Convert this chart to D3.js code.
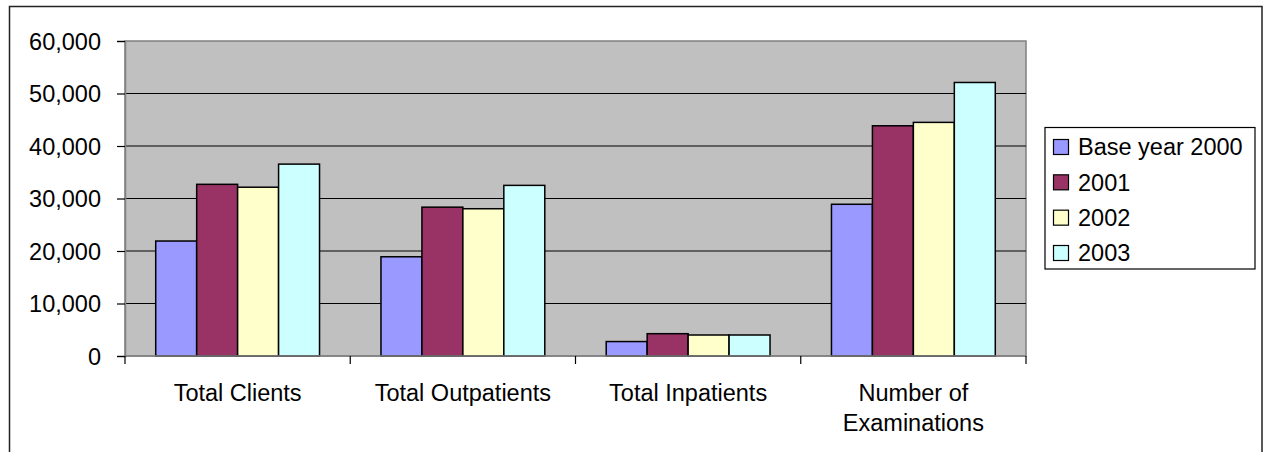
<!DOCTYPE html>
<html>
<head>
<meta charset="utf-8">
<script src="https://cdn.jsdelivr.net/npm/d3@7"></script>
<style>
  html, body { margin: 0; padding: 0; background: #fff; }
  svg { display: block; font-family: Arial, "Liberation Sans", sans-serif; }
</style>
</head>
<body>
<svg id="chart" width="1266" height="452"></svg>
<script>
// values
const categories = ['Total Clients', 'Total Outpatients', 'Total Inpatients', 'Number of Examinations']
const seriesNames = ['Base year 2000', '2001', '2002', '2003']
const base2000 = [21900, 18900, 2750, 28900]
const y2001 = [32700, 28350, 4250, 43850]
const y2002 = [32150, 28050, 4000, 44500]
const y2003 = [36550, 32500, 4000, 52100]
const seriesColors = ['#9999ff', '#993366', '#ffffcc', '#ccffff']
const yTicks = [0, 10000, 20000, 30000, 40000, 50000, 60000]

const seriesValues = [base2000, y2001, y2002, y2003]

const svg = d3.select('#chart')
const fontSize = 23.5

const plot = { left: 125, right: 1026, top: 41, bottom: 356 }

// chart frame (no bottom edge visible in the picture)
svg.append('rect')
    .attr('x', 9.5)
    .attr('y', 6.5)
    .attr('width', 1252.5)
    .attr('height', 470)
    .attr('fill', '#fff')
    .attr('stroke', '#222')
    .attr('stroke-width', 1.5)

const x = d3.scaleBand()
    .domain(categories)
    .range([plot.left, plot.right])
    .padding(0)

// gap width 150% like excel: 0.75 step on each side
const xs = d3.scaleBand()
    .domain(seriesNames)
    .range([0, x.bandwidth()])
    .paddingInner(0)
    .paddingOuter(0.75)

const y = d3.scaleLinear()
    .domain([0, 60000])
    .range([plot.bottom, plot.top])

// plot area
svg.append('rect')
    .attr('x', plot.left)
    .attr('y', plot.top)
    .attr('width', plot.right - plot.left)
    .attr('height', plot.bottom - plot.top)
    .attr('fill', '#c0c0c0')
    .attr('stroke', '#808080')
    .attr('stroke-width', 1.5)

// gridlines
svg.append('g')
    .selectAll('line')
    .data(yTicks.filter(d => d > 0 && d < 60000))
    .join('line')
    .attr('x1', plot.left)
    .attr('x2', plot.right)
    .attr('y1', d => y(d))
    .attr('y2', d => y(d))
    .attr('stroke', '#000')
    .attr('stroke-width', 1.2)

// bars
const groups = svg.append('g')
    .selectAll('g')
    .data(seriesNames)
    .join('g')
    .attr('fill', (d, i) => seriesColors[i])

groups.selectAll('rect')
    .data((s, si) => categories.map((c, ci) => ({ c: c, s: s, v: seriesValues[si][ci] })))
    .join('rect')
    .attr('x', d => x(d.c) + xs(d.s))
    .attr('y', d => y(d.v))
    .attr('width', xs.bandwidth())
    .attr('height', d => y(0) - y(d.v))
    .attr('stroke', '#000')
    .attr('stroke-width', 1.5)

// y axis
const yAxis = svg.append('g')
    .attr('transform', `translate(${plot.left},0)`)
    .call(d3.axisLeft(y).tickValues(yTicks).tickFormat(d3.format(',')).tickSize(8).tickPadding(16))
yAxis.select('.domain').attr('stroke', '#808080').attr('stroke-width', 1.5)
yAxis.selectAll('.tick line').attr('stroke', '#000').attr('stroke-width', 1.2)
yAxis.selectAll('.tick text')
    .attr('font-size', fontSize)
    .attr('font-family', 'Arial, "Liberation Sans", sans-serif')
    .attr('fill', '#000')
    .attr('dy', '0.36em')

// x axis line + category boundary ticks
svg.append('line')
    .attr('x1', plot.left)
    .attr('x2', plot.right)
    .attr('y1', plot.bottom)
    .attr('y2', plot.bottom)
    .attr('stroke', '#808080')
    .attr('stroke-width', 1.5)

const boundaries = categories.map(c => x(c)).concat([plot.right])
svg.append('g')
    .selectAll('line')
    .data(boundaries)
    .join('line')
    .attr('x1', d => d)
    .attr('x2', d => d)
    .attr('y1', plot.bottom)
    .attr('y2', plot.bottom + 8)
    .attr('stroke', '#000')
    .attr('stroke-width', 1.2)

// category labels, wrapped to the band width
const labels = svg.append('g')
    .selectAll('text')
    .data(categories)
    .join('text')
    .attr('x', d => x(d) + x.bandwidth() / 2)
    .attr('y', 401)
    .attr('text-anchor', 'middle')
    .attr('font-size', fontSize)
    .attr('fill', '#000')

labels.each(function (d) {
    const t = d3.select(this)
    const cx = x(d) + x.bandwidth() / 2
    const words = d.split(' ')
    let line = []
    let tspan = t.append('tspan').attr('x', cx).attr('dy', 0)
    for (let w of words) {
        line.push(w)
        tspan.text(line.join(' '))
        if (tspan.node().getComputedTextLength() > x.bandwidth() - 10 && line.length > 1) {
            line.pop()
            tspan.text(line.join(' '))
            line = [w]
            tspan = t.append('tspan')
                .attr('x', cx)
                .attr('dy', 30)
                .text(w)
        }
    }
})

// legend
const legend = svg.append('g')
legend.append('rect')
    .attr('x', 1045)
    .attr('y', 127.5)
    .attr('width', 210)
    .attr('height', 141.5)
    .attr('fill', '#fff')
    .attr('stroke', '#000')
    .attr('stroke-width', 1.2)

const rowY = d3.scalePoint()
    .domain(seriesNames)
    .range([147, 253])

const items = legend.selectAll('g.item')
    .data(seriesNames)
    .join('g')
    .attr('class', 'item')
    .attr('transform', d => `translate(0,${rowY(d)})`)

items.append('rect')
    .attr('x', 1053.5)
    .attr('y', -7.5)
    .attr('width', 15)
    .attr('height', 15)
    .attr('fill', (d, i) => seriesColors[i])
    .attr('stroke', '#000')
    .attr('stroke-width', 1.2)

items.append('text')
    .attr('x', 1078)
    .attr('dy', '0.36em')
    .attr('font-size', fontSize)
    .attr('fill', '#000')
    .text(d => d)
</script>
</body>
</html>
